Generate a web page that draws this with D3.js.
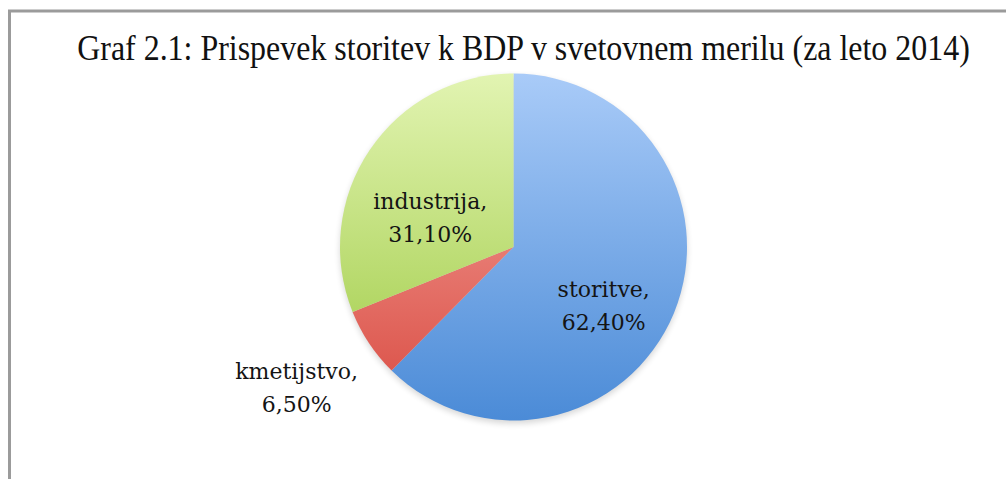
<!DOCTYPE html>
<html>
<head>
<meta charset="utf-8">
<script src="https://cdn.jsdelivr.net/npm/d3@7"></script>
<style>
  html, body { margin: 0; padding: 0; background: #fff; }
  svg { display: block; }
</style>
</head>
<body>
<svg id="chart" width="1006" height="479"></svg>
<script>
// Shares of world GDP by sector, 2014
const categories = ["storitve", "kmetijstvo", "industrija"];
const values = [62.4, 6.5, 31.1];
const valueLabels = ["62,40%", "6,50%", "31,10%"];
const titleText = "Graf 2.1: Prispevek storitev k BDP v svetovnem merilu (za leto 2014)";

// Slice fills: light top to saturated bottom
const sliceTop = ["#a9cbf8", "#f6aca6", "#e2f4b2"];
const sliceBottom = ["#4b8bd7", "#d94a40", "#9cc940"];

// Label anchors in units of the radius, relative to the pie centre
const labelAnchor = [[0.52, 0.31], [-1.25, 0.78], [-0.48, -0.20]];

const W = 1006, H = 479;
const cx = 513.5, cy = 247, R = 173.5;

const svg = d3.select("#chart");
const defs = svg.append("defs");

// Frame lines along top and left edges
svg.append("line").attr("x1", 8).attr("x2", W).attr("y1", 11).attr("y2", 11)
  .attr("stroke", "#9b9b9b").attr("stroke-width", 3);
svg.append("line").attr("x1", 9.5).attr("x2", 9.5).attr("y1", 10).attr("y2", H)
  .attr("stroke", "#9b9b9b").attr("stroke-width", 3);

// Title: a tall serif, squeezed horizontally into the frame width
const titleWidth = 893, titleX = 523.5, titleY = 60;
const title = svg.append("text")
  .attr("x", 0).attr("y", 0)
  .attr("text-anchor", "middle")
  .attr("font-family", "'Liberation Serif', 'Times New Roman', serif")
  .attr("font-size", 36)
  .attr("fill", "#111")
  .text(titleText);
const natural = title.node().getComputedTextLength();
title.attr("transform", `translate(${titleX},${titleY}) scale(${titleWidth / natural},1)`);

// Gradients are in the pie's local coordinates (centre at 0,0)
categories.forEach((c, i) => {
  const g = defs.append("linearGradient")
    .attr("id", "grad" + i)
    .attr("gradientUnits", "userSpaceOnUse")
    .attr("x1", 0).attr("x2", 0)
    .attr("y1", -R).attr("y2", R);
  g.append("stop").attr("offset", "0%").attr("stop-color", sliceTop[i]);
  g.append("stop").attr("offset", "100%").attr("stop-color", sliceBottom[i]);
});

const shadow = defs.append("filter").attr("id", "shadow")
  .attr("x", "-20%").attr("y", "-20%").attr("width", "140%").attr("height", "140%");
shadow.append("feGaussianBlur").attr("stdDeviation", 3);

const pie = d3.pie().sort(null).value(d => d)(values);
const arc = d3.arc().innerRadius(0).outerRadius(R);

const root = svg.append("g").attr("transform", `translate(${cx},${cy})`);

// soft shadow under the pie
root.append("circle").attr("cx", 0).attr("cy", 3).attr("r", R)
  .attr("fill", "#000").attr("opacity", 0.16).attr("filter", "url(#shadow)");

root.selectAll("path.slice").data(pie).join("path")
  .attr("class", "slice")
  .attr("d", arc)
  .attr("fill", (d, i) => `url(#grad${i})`);

const labels = root.selectAll("text.lbl").data(pie).join("text")
  .attr("class", "lbl")
  .attr("text-anchor", "middle")
  .attr("font-family", "'DejaVu Serif', serif")
  .attr("font-size", 22)
  .attr("fill", "#141414")
  .attr("transform", (d, i) => `translate(${labelAnchor[i][0] * R},${labelAnchor[i][1] * R})`);

labels.append("tspan").attr("x", 0).attr("dy", "-0.15em")
  .text((d, i) => categories[i] + ",");
labels.append("tspan").attr("x", 0).attr("dy", "1.5em")
  .text((d, i) => valueLabels[i]);
</script>
</body>
</html>
